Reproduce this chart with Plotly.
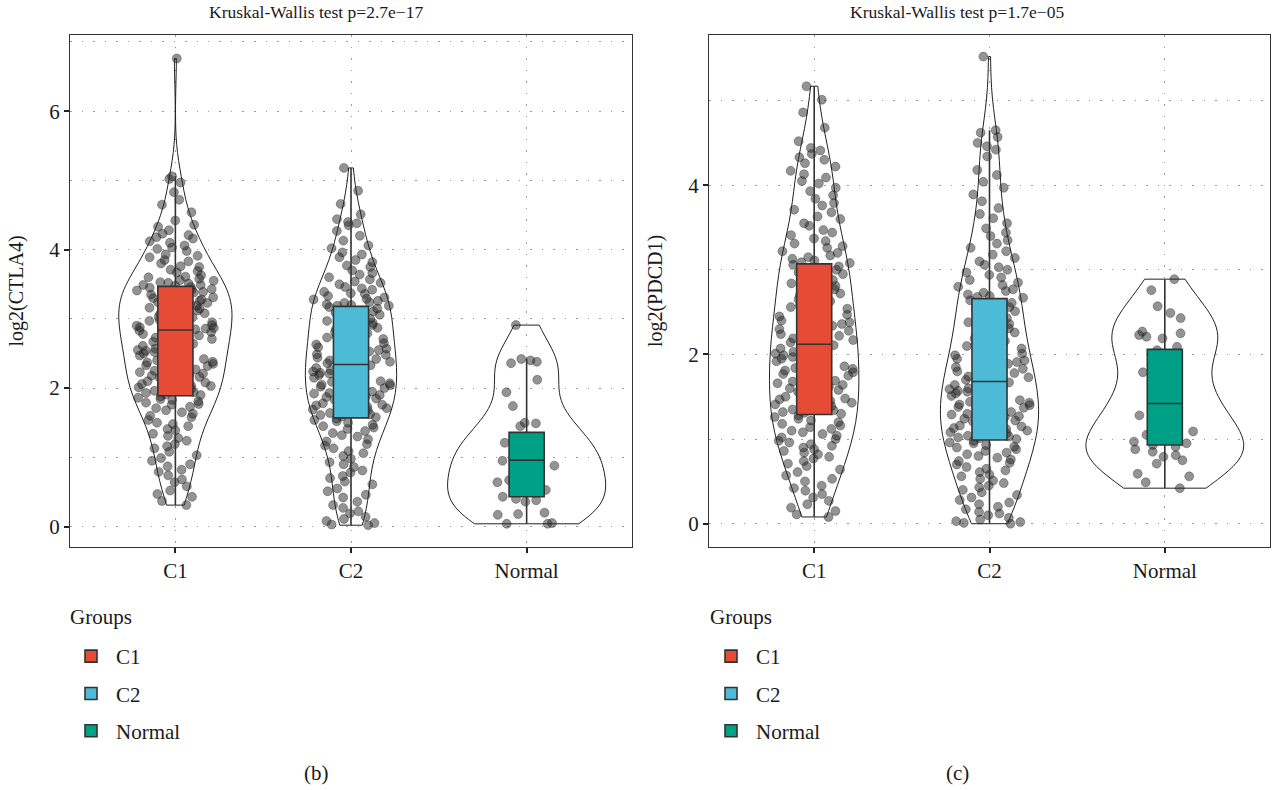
import numpy as np
import plotly.graph_objects as go
from plotly.subplots import make_subplots

# ---------------- data ----------------
groups = ["C1", "C2", "Normal"]
colors = ["#E64B35", "#4DBBD5", "#00A087"]

ctla4_C1 = [
    6.76, 5.06, 5.02, 4.97, 4.83, 4.72, 4.65, 4.54, 4.42, 4.36, 4.33, 4.28, 4.23, 4.21, 4.18, 4.16, 4.12, 4.10,
    4.06, 4.03, 4.01, 3.98, 3.93, 3.91, 3.89, 3.85, 3.83, 3.80, 3.76, 3.75, 3.71, 3.69, 3.67, 3.63, 3.61, 3.60,
    3.58, 3.56, 3.55, 3.53, 3.52, 3.51, 3.49, 3.49, 3.48,
    3.46, 3.45, 3.43, 3.42, 3.41, 3.39, 3.38, 3.37, 3.35, 3.34, 3.32, 3.31, 3.30, 3.28, 3.27, 3.26, 3.24, 3.23,
    3.21, 3.20, 3.19, 3.18, 3.16, 3.15, 3.13, 3.12, 3.10, 3.08, 3.07, 3.05, 3.03, 3.02, 3.00, 2.98, 2.97, 2.95,
    2.93, 2.92, 2.91, 2.90, 2.88, 2.88, 2.87, 2.86, 2.85,
    2.84, 2.83, 2.81, 2.79, 2.78, 2.76, 2.74, 2.73, 2.71, 2.69, 2.67, 2.66, 2.64, 2.62, 2.61, 2.59, 2.57, 2.55,
    2.54, 2.52, 2.50, 2.49, 2.47, 2.45, 2.44, 2.42, 2.40, 2.38, 2.37, 2.35, 2.33, 2.32, 2.30, 2.28, 2.27, 2.25,
    2.23, 2.21, 2.20, 2.18, 2.16, 2.15, 2.13, 2.11, 2.10, 2.08, 2.06, 2.04, 2.03, 2.01, 1.99, 1.98, 1.96, 1.94,
    1.93, 1.91, 1.90,
    1.88, 1.86, 1.84, 1.83, 1.81, 1.79, 1.77, 1.76, 1.73, 1.71, 1.68, 1.65, 1.63, 1.60, 1.58, 1.54, 1.50, 1.48,
    1.45, 1.41, 1.39, 1.34, 1.31, 1.28, 1.24, 1.19, 1.16, 1.13, 1.08, 1.03, 0.99, 0.95, 0.90, 0.87, 0.82, 0.79,
    0.74, 0.68, 0.64, 0.58, 0.52, 0.47, 0.43, 0.37, 0.31]
ctla4_C2 = [
    5.18, 4.85, 4.66, 4.51, 4.44, 4.40, 4.38, 4.35, 4.27, 4.20, 4.13, 4.06, 4.02, 3.96, 3.93, 3.89, 3.85, 3.82,
    3.77, 3.75, 3.70, 3.66, 3.64, 3.60, 3.57, 3.54, 3.52, 3.50, 3.46, 3.44, 3.42, 3.39, 3.37, 3.36, 3.33, 3.31,
    3.29, 3.28, 3.26, 3.24, 3.23, 3.21, 3.20, 3.19, 3.19,
    3.17, 3.15, 3.12, 3.11, 3.09, 3.06, 3.05, 3.03, 3.00, 2.99, 2.97, 2.94, 2.93, 2.91, 2.88, 2.87, 2.85, 2.82,
    2.81, 2.79, 2.76, 2.75, 2.73, 2.71, 2.68, 2.67, 2.65, 2.63, 2.60, 2.59, 2.57, 2.55, 2.53, 2.51, 2.49, 2.48,
    2.46, 2.44, 2.42, 2.41, 2.40, 2.38, 2.37, 2.36, 2.35,
    2.33, 2.31, 2.29, 2.28, 2.26, 2.24, 2.22, 2.21, 2.19, 2.17, 2.15, 2.14, 2.12, 2.10, 2.09, 2.07, 2.05, 2.04,
    2.02, 2.00, 1.98, 1.97, 1.95, 1.93, 1.92, 1.90, 1.88, 1.87, 1.85, 1.83, 1.81, 1.80, 1.78, 1.76, 1.75, 1.73,
    1.71, 1.69, 1.68, 1.66, 1.64, 1.62, 1.61, 1.59, 1.58,
    1.56, 1.54, 1.52, 1.50, 1.47, 1.45, 1.43, 1.41, 1.38, 1.35, 1.32, 1.30, 1.26, 1.23, 1.19, 1.17, 1.13, 1.09,
    1.06, 1.02, 0.98, 0.93, 0.90, 0.86, 0.81, 0.78, 0.73, 0.70, 0.65, 0.61, 0.55, 0.51, 0.46, 0.42, 0.36, 0.31,
    0.27, 0.22, 0.19, 0.14, 0.11, 0.08, 0.05, 0.03, 0.02]
ctla4_Normal = [
    2.91, 2.42, 2.40, 2.38, 2.36, 2.12, 1.94, 1.74, 1.50, 1.49, 1.45, 1.30, 1.21, 1.19, 1.05, 1.02, 1.00, 0.98,
    0.95, 0.92, 0.88, 0.67, 0.64, 0.53, 0.50, 0.49, 0.43, 0.40, 0.38, 0.36, 0.20, 0.18, 0.17, 0.05, 0.04, 0.04]

pdcd1_C1 = [
    5.17, 5.01, 4.86, 4.68, 4.52, 4.44, 4.41, 4.37, 4.33, 4.30, 4.26, 4.22, 4.17, 4.13, 4.09, 4.05, 4.02, 3.97,
    3.93, 3.88, 3.84, 3.79, 3.76, 3.71, 3.68, 3.63, 3.60, 3.55, 3.52, 3.47, 3.44, 3.41, 3.37, 3.34, 3.31, 3.28,
    3.26, 3.22, 3.20, 3.17, 3.15, 3.13, 3.11, 3.09, 3.08,
    3.06, 3.04, 3.02, 3.00, 2.97, 2.95, 2.93, 2.91, 2.88, 2.86, 2.84, 2.81, 2.79, 2.77, 2.74, 2.72, 2.70, 2.67,
    2.65, 2.63, 2.60, 2.58, 2.56, 2.54, 2.51, 2.49, 2.47, 2.45, 2.43, 2.40, 2.38, 2.36, 2.34, 2.32, 2.30, 2.28,
    2.26, 2.24, 2.22, 2.21, 2.19, 2.17, 2.16, 2.14, 2.13,
    2.11, 2.09, 2.07, 2.05, 2.03, 2.01, 1.99, 1.97, 1.95, 1.94, 1.92, 1.90, 1.88, 1.86, 1.84, 1.83, 1.81, 1.79,
    1.77, 1.75, 1.73, 1.71, 1.69, 1.68, 1.66, 1.64, 1.62, 1.60, 1.58, 1.56, 1.54, 1.52, 1.50, 1.48, 1.47, 1.45,
    1.43, 1.41, 1.39, 1.37, 1.35, 1.34, 1.32, 1.31, 1.30,
    1.28, 1.26, 1.24, 1.22, 1.20, 1.18, 1.16, 1.14, 1.12, 1.10, 1.08, 1.06, 1.04, 1.02, 1.00, 0.98, 0.96, 0.94,
    0.92, 0.90, 0.88, 0.86, 0.84, 0.82, 0.79, 0.77, 0.74, 0.71, 0.68, 0.64, 0.61, 0.57, 0.53, 0.50, 0.45, 0.42,
    0.39, 0.35, 0.31, 0.27, 0.23, 0.19, 0.15, 0.11, 0.08]
pdcd1_C2 = [
    5.52, 4.65, 4.62, 4.57, 4.50, 4.46, 4.42, 4.34, 4.18, 4.12, 4.04, 3.97, 3.89, 3.81, 3.73, 3.66, 3.61, 3.55,
    3.49, 3.44, 3.40, 3.35, 3.31, 3.26, 3.22, 3.18, 3.14, 3.10, 3.06, 3.03, 3.00, 2.97, 2.94, 2.91, 2.88, 2.85,
    2.82, 2.80, 2.77, 2.75, 2.73, 2.71, 2.69, 2.68, 2.67,
    2.64, 2.61, 2.59, 2.56, 2.54, 2.51, 2.48, 2.46, 2.43, 2.41, 2.38, 2.36, 2.33, 2.31, 2.28, 2.26, 2.23, 2.21,
    2.19, 2.16, 2.14, 2.12, 2.10, 2.07, 2.05, 2.03, 2.01, 1.99, 1.97, 1.95, 1.93, 1.91, 1.89, 1.87, 1.85, 1.83,
    1.81, 1.80, 1.78, 1.76, 1.74, 1.73, 1.71, 1.70, 1.69,
    1.67, 1.65, 1.64, 1.62, 1.60, 1.59, 1.57, 1.56, 1.54, 1.52, 1.51, 1.49, 1.48, 1.46, 1.44, 1.43, 1.41, 1.40,
    1.38, 1.37, 1.35, 1.33, 1.32, 1.30, 1.29, 1.27, 1.26, 1.24, 1.22, 1.21, 1.19, 1.18, 1.16, 1.15, 1.13, 1.12,
    1.10, 1.08, 1.07, 1.05, 1.04, 1.03, 1.02, 1.01, 1.00,
    0.98, 0.96, 0.95, 0.93, 0.91, 0.90, 0.88, 0.86, 0.84, 0.82, 0.80, 0.78, 0.76, 0.74, 0.72, 0.70, 0.67, 0.65,
    0.63, 0.61, 0.58, 0.56, 0.53, 0.51, 0.48, 0.45, 0.43, 0.40, 0.37, 0.34, 0.31, 0.28, 0.25, 0.23, 0.20, 0.17,
    0.14, 0.12, 0.10, 0.07, 0.05, 0.03, 0.02, 0.01, 0.00]
pdcd1_Normal = [
    2.89, 2.76, 2.57, 2.49, 2.43, 2.27, 2.25, 2.23, 2.21, 2.19, 2.09, 2.05, 1.84, 1.79, 1.58, 1.47, 1.45, 1.43,
    1.40, 1.28, 1.21, 1.09, 1.05, 0.97, 0.95, 0.93, 0.91, 0.88, 0.85, 0.81, 0.79, 0.75, 0.71, 0.59, 0.56, 0.49,
    0.42]

# box statistics (ggplot boxplot: hinges, median, whisker ends)
ctla4_q1 = [1.89, 1.57, 0.43]
ctla4_median = [2.84, 2.34, 0.96]
ctla4_q3 = [3.47, 3.18, 1.36]
ctla4_lower = [0.31, 0.02, 0.04]
ctla4_upper = [5.06, 5.18, 2.42]

pdcd1_q1 = [1.29, 0.99, 0.93]
pdcd1_median = [2.12, 1.68, 1.42]
pdcd1_q3 = [3.07, 2.66, 2.06]
pdcd1_lower = [0.08, 0.00, 0.42]
pdcd1_upper = [5.17, 4.65, 2.89]

titles = ["Kruskal-Wallis test p=2.7e\u221217", "Kruskal-Wallis test p=1.7e\u221205"]
ylabels = ["log2(CTLA4)", "log2(PDCD1)"]
captions = ["(b)", "(c)"]
legend_title = "Groups"

# ---------------- styling ----------------
FONT = "Liberation Serif"
TXT = "#1a1a1a"
W, H = 1272, 790
ML, MR, MT, MB = 70, 2, 35, 243
PW, PH = W - ML - MR, H - MT - MB


def px_x(px):
    return (px - ML) / PW


def px_y(py):
    return (H - MB - py) / PH


def nrd0(vals):
    # R's default kernel bandwidth (bw.nrd0), as used by ggplot's geom_violin
    v = np.asarray(vals, dtype=float)
    iqr = np.subtract(*np.percentile(v, [75, 25]))
    return 0.9 * min(v.std(ddof=1), iqr / 1.34) * len(v) ** -0.2


violin_widths = [[0.645, 0.52, 0.90], [0.51, 0.56, 0.90]]
POINT_SPREAD = 0.46
point_marker = dict(color="rgba(40,40,40,0.5)", size=9, line=dict(color="rgba(0,0,0,0.35)", width=0.8))

panels = [
    dict(values=[ctla4_C1, ctla4_C2, ctla4_Normal], q1=ctla4_q1, med=ctla4_median, q3=ctla4_q3,
         lo=ctla4_lower, hi=ctla4_upper, yr=[-0.295, 7.10], legend="legend"),
    dict(values=[pdcd1_C1, pdcd1_C2, pdcd1_Normal], q1=pdcd1_q1, med=pdcd1_median, q3=pdcd1_q3,
         lo=pdcd1_lower, hi=pdcd1_upper, yr=[-0.275, 5.775], legend="legend2"),
]

fig = make_subplots(rows=1, cols=2, horizontal_spacing=0.06)

for p, panel in enumerate(panels):
    col = p + 1
    # violin outlines
    for g, name in enumerate(groups):
        vals = panel["values"][g]
        fig.add_trace(go.Violin(
            x=[name] * len(vals), y=vals, name=name, showlegend=False,
            width=violin_widths[p][g], scalemode="width", spanmode="hard",
            bandwidth=nrd0(vals),
            fillcolor="rgba(0,0,0,0)", line=dict(color="#222222", width=1),
            points=False, box_visible=False, meanline_visible=False, hoverinfo="skip",
        ), row=1, col=col)
    # jittered sample points
    for g, name in enumerate(groups):
        vals = panel["values"][g]
        fig.add_trace(go.Box(
            x=[name] * len(vals), y=vals, name=name, showlegend=False,
            boxpoints="all", jitter=1, pointpos=0, width=POINT_SPREAD,
            fillcolor="rgba(0,0,0,0)", line=dict(color="rgba(0,0,0,0)", width=0),
            whiskerwidth=0, marker=point_marker,
        ), row=1, col=col)
    # box plots
    for g, name in enumerate(groups):
        fig.add_trace(go.Box(
            x=[name], q1=[panel["q1"][g]], median=[panel["med"][g]], q3=[panel["q3"][g]],
            lowerfence=[panel["lo"][g]], upperfence=[panel["hi"][g]],
            name=name, legendgroup=f"{p}{name}", legend=panel["legend"], showlegend=True,
            fillcolor=colors[g], line=dict(color="#333333", width=1.6),
            whiskerwidth=0, width=0.2, boxpoints=False,
        ), row=1, col=col)

axis_common = dict(
    showline=True, mirror=True, linecolor="#333333", linewidth=1.3,
    ticks="outside", ticklen=5, tickwidth=1.5, tickcolor="#222222",
    tickfont=dict(family=FONT, size=21, color=TXT),
    showgrid=True, gridcolor="#9a9a9a", gridwidth=1, griddash="1.5px,10px",
    zeroline=False,
)

fig.update_layout(
    width=W, height=H, paper_bgcolor="white", plot_bgcolor="white",
    margin=dict(l=ML, r=MR, t=MT, b=MB),
    font=dict(family=FONT, color=TXT),
    violinmode="overlay", boxmode="overlay",
    xaxis=dict(domain=[0, px_x(632)], **axis_common),
    xaxis2=dict(domain=[px_x(709), 1.0], **axis_common),
)
for p, panel in enumerate(panels):
    xa = "xaxis" if p == 0 else "xaxis2"
    ya = "yaxis" if p == 0 else "yaxis2"
    fig.layout[xa].update(type="category", categoryorder="array", categoryarray=groups,
                          range=[-0.6, 2.6])
    fig.layout[ya].update(**axis_common)
    fig.layout[ya].update(
        range=panel["yr"], dtick=2, tick0=0,
        minor=dict(dtick=1, showgrid=True, gridcolor="#9a9a9a", griddash="1.5px,10px", ticks=""),
        title=dict(text=ylabels[p], font=dict(family=FONT, size=20, color=TXT), standoff=20),
    )

legend_common = dict(
    yanchor="top", xanchor="left", orientation="v",
    font=dict(family=FONT, size=21, color=TXT),
    bgcolor="rgba(0,0,0,0)", tracegroupgap=7, itemwidth=40,
)
fig.update_layout(
    legend=dict(x=px_x(66), y=px_y(636), **legend_common),
    legend2=dict(x=px_x(706), y=px_y(636), **legend_common),
)

annotations = []
for p in range(2):
    cx = px_x(316) if p == 0 else px_x(957)
    annotations.append(dict(text=titles[p], x=cx, y=px_y(12), xref="paper", yref="paper",
                            showarrow=False, xanchor="center", yanchor="middle",
                            font=dict(family=FONT, size=17.5, color=TXT)))
    annotations.append(dict(text=captions[p], x=cx, y=px_y(773), xref="paper", yref="paper",
                            showarrow=False, xanchor="center", yanchor="middle",
                            font=dict(family=FONT, size=21, color=TXT)))
    lgx = px_x(68) if p == 0 else px_x(708)
    annotations.append(dict(text=legend_title, x=lgx, y=px_y(617), xref="paper", yref="paper",
                            showarrow=False, xanchor="left", yanchor="middle",
                            font=dict(family=FONT, size=21, color=TXT)))
fig.update_layout(annotations=annotations)

fig.write_html("out.html")
